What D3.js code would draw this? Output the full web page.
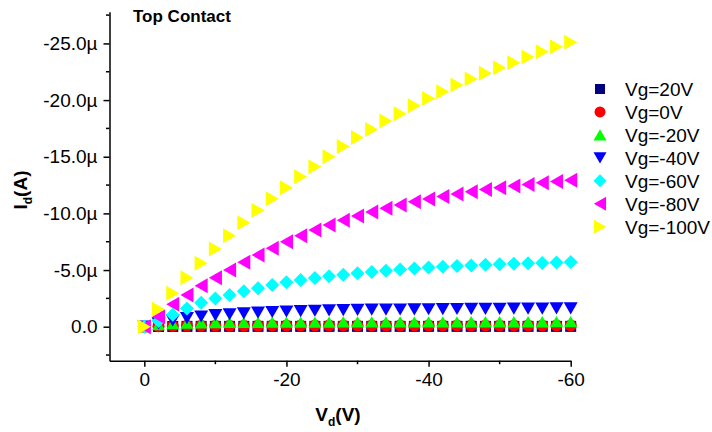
<!DOCTYPE html>
<html>
<head>
<meta charset="utf-8">
<script src="https://cdn.jsdelivr.net/npm/d3@7"></script>
<style>
  body { margin: 0; background: #fff; }
  svg { display: block; font-family: "Liberation Sans", Arial, sans-serif; }
</style>
</head>
<body>
<svg width="712" height="432"></svg>
<script>
"use strict";
// drain voltage (V)
const vd = [0, -2, -4, -6, -8, -10, -12, -14, -16, -18, -20, -22, -24, -26, -28, -30,
    -32, -34, -36, -38, -40, -42, -44, -46, -48, -50, -52, -54, -56, -58, -60];
// drain current (uA), one array per gate voltage
const id20 = [0, -0.02, -0.02, -0.03, -0.03, -0.03, -0.03, -0.03, -0.03, -0.03, -0.03, -0.03, -0.03, -0.03, -0.03, -0.03,
    -0.03, -0.03, -0.03, -0.03, -0.03, -0.03, -0.03, -0.03, -0.03, -0.03, -0.03, -0.03, -0.03, -0.03, -0.03];
const id0 = [0, -0.05, -0.07, -0.08, -0.08, -0.09, -0.09, -0.09, -0.09, -0.1, -0.1, -0.1, -0.1, -0.1, -0.1, -0.1,
    -0.1, -0.1, -0.1, -0.1, -0.1, -0.1, -0.1, -0.1, -0.1, -0.1, -0.1, -0.1, -0.1, -0.1, -0.1];
const idM20 = [0, -0.18, -0.27, -0.32, -0.35, -0.37, -0.38, -0.39, -0.39, -0.4, -0.4, -0.41, -0.41, -0.41, -0.42, -0.42,
    -0.42, -0.42, -0.43, -0.43, -0.43, -0.43, -0.43, -0.44, -0.44, -0.44, -0.44, -0.44, -0.44, -0.45, -0.45];
const idM40 = [0, -0.3, -0.55, -0.75, -0.9, -1.02, -1.1, -1.18, -1.24, -1.3, -1.34, -1.38, -1.41, -1.44, -1.46, -1.48,
    -1.5, -1.51, -1.52, -1.53, -1.54, -1.55, -1.56, -1.57, -1.58, -1.58, -1.59, -1.6, -1.6, -1.61, -1.62];
const idM60 = [0, -0.5, -1.05, -1.6, -2.12, -2.5, -2.8, -3.12, -3.4, -3.67, -3.92, -4.12, -4.3, -4.45, -4.58, -4.71,
    -4.83, -4.94, -5.04, -5.13, -5.22, -5.29, -5.35, -5.41, -5.47, -5.52, -5.56, -5.6, -5.63, -5.66, -5.7];
const idM80 = [0, -0.88, -1.98, -2.8, -3.62, -4.33, -5.0, -5.68, -6.33, -6.92, -7.5, -8.03, -8.53, -8.97, -9.4, -9.78,
    -10.13, -10.45, -10.75, -11.03, -11.28, -11.5, -11.72, -11.92, -12.1, -12.27, -12.42, -12.56, -12.7, -12.82, -12.93];
const idM100 = [0, -1.54, -2.95, -4.33, -5.6, -6.86, -8.03, -9.18, -10.27, -11.3, -12.27, -13.24, -14.12, -15.0, -15.9, -16.7,
    -17.4, -18.15, -18.8, -19.5, -20.15, -20.74, -21.33, -21.86, -22.36, -22.86, -23.3, -23.8, -24.27, -24.7, -25.1];
const seriesNames = ["Vg=20V", "Vg=0V", "Vg=-20V", "Vg=-40V", "Vg=-60V", "Vg=-80V", "Vg=-100V"];
const seriesValues = [id20, id0, idM20, idM40, idM60, idM80, idM100];
const shapes = ["square", "circle", "up", "down", "diamond", "left", "right"];
const colors = ["#000080", "#ff0000", "#00ff00", "#0000ff", "#00ffff", "#ff00ff", "#ffff00"];
const markerR = [5.5, 6, 6.5, 7, 7, 7.5, 7.5];
const legendR = [5, 5.5, 6.5, 6.5, 6.5, 7, 7];
const xTicks = [0, -20, -40, -60];
const xMinor = [-10, -30, -50];
const yTicks = [0, -5, -10, -15, -20, -25];
const yMinor = [2.5, -2.5, -7.5, -12.5, -17.5, -22.5, -27.5];

const svg = d3.select("svg");
const x = d3.scaleLinear().domain([4.9, -60]).range([109.5, 570.7]);
const y = d3.scaleLinear().domain([3, -27.8]).range([360.7, 11.7]);

function markerPath(shape, r) {
    const h = r * 0.87;
    switch (shape) {
    case "square": return `M${-r},${-r}H${r}V${r}H${-r}Z`;
    case "circle": return `M${r},0A${r},${r} 0 1,1 ${-r},0A${r},${r} 0 1,1 ${r},0Z`;
    case "up": return `M0,${-h}L${r},${h}L${-r},${h}Z`;
    case "down": return `M0,${h}L${r},${-h}L${-r},${-h}Z`;
    case "left": return `M${-h},0L${h},${-r}L${h},${r}Z`;
    case "right": return `M${h},0L${-h},${-r}L${-h},${r}Z`;
    case "diamond": return `M0,${-r}L${r},0L0,${r}L${-r},0Z`;
    }
    return "";
}

// data markers, drawn in series order so Vg=-100V ends on top
seriesValues.forEach((vals, i) => {
    svg.append("g")
        .selectAll("path")
        .data(vals.map((v, j) => [vd[j], v]))
        .enter()
        .append("path")
        .attr("transform", d => `translate(${x(d[0])},${y(d[1])})`)
        .attr("d", markerPath(shapes[i], markerR[i]))
        .style("fill", colors[i]);
});

// axes
const xAxis = svg.append("g").attr("transform", `translate(0,${y.range()[0]})`);
xAxis.call(d3.axisBottom(x).tickValues(xTicks).tickSize(6).tickSizeOuter(0).tickPadding(6)
    .tickFormat(d => String(d)));
xAxis.append("g").selectAll("line")
    .data(xMinor)
    .enter()
    .append("line")
    .attr("x1", d => x(d)).attr("x2", d => x(d))
    .attr("y1", 0).attr("y2", 3.5);
xAxis.selectAll("text").style("font-size", "19px").style("fill", "#000");

const yAxis = svg.append("g").attr("transform", `translate(${x.range()[0]},0)`);
yAxis.call(d3.axisLeft(y).tickValues(yTicks).tickSize(6).tickSizeOuter(0).tickPadding(6)
    .tickFormat(d => d === 0 ? "0.0" : `${d.toFixed(1)}µ`));
yAxis.append("g").selectAll("line")
    .data(yMinor)
    .enter()
    .append("line")
    .attr("y1", d => y(d)).attr("y2", d => y(d))
    .attr("x1", 0).attr("x2", -3.5);
yAxis.selectAll("text").style("font-size", "19px").style("fill", "#000");

svg.selectAll(".domain").style("stroke", "#000").style("stroke-width", 1.5);
svg.selectAll("line").style("stroke", "#000").style("stroke-width", 1.5);

// titles
const xTitle = svg.append("text")
    .attr("x", 338)
    .attr("y", 421)
    .attr("text-anchor", "middle")
    .style("font-size", "19px")
    .style("font-weight", "bold");
xTitle.append("tspan").text("V");
xTitle.append("tspan").attr("dy", 5).style("font-size", "12px").text("d");
xTitle.append("tspan").attr("dy", -5).text("(V)");

const yTitle = svg.append("text")
    .attr("transform", "translate(27,190) rotate(-90)")
    .attr("text-anchor", "middle")
    .style("font-size", "19px")
    .style("font-weight", "bold");
yTitle.append("tspan").text("I");
yTitle.append("tspan").attr("dy", 5).style("font-size", "12px").text("d");
yTitle.append("tspan").attr("dy", -5).text("(A)");

svg.append("text")
    .attr("x", 133)
    .attr("y", 22)
    .style("font-size", "17px")
    .style("font-weight", "bold")
    .text("Top Contact");

// legend
const legend = svg.append("g").attr("transform", "translate(600,89)");
const rows = legend.selectAll("g")
    .data(seriesNames)
    .enter()
    .append("g")
    .attr("transform", (d, i) => `translate(0,${i * 22.95})`);
rows.append("path")
    .attr("d", (d, i) => markerPath(shapes[i], legendR[i]))
    .style("fill", (d, i) => colors[i]);
rows.append("text")
    .attr("x", 25)
    .attr("y", 7)
    .style("font-size", "19px")
    .text(d => d);
</script>
</body>
</html>
